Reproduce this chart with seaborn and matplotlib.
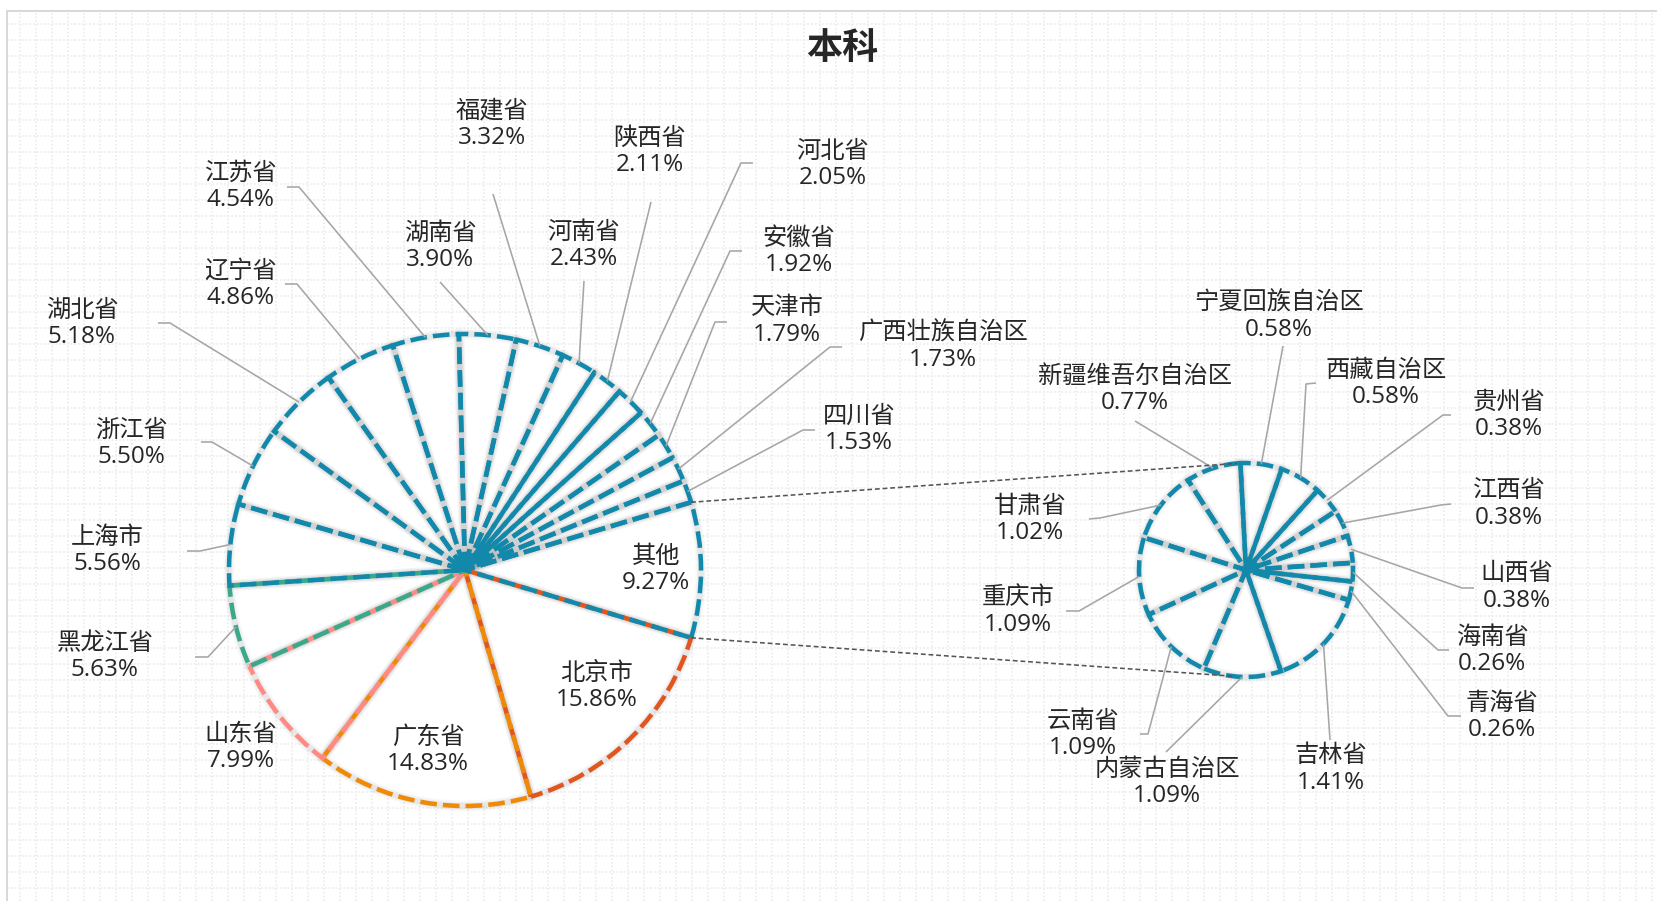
import numpy as np
import matplotlib
matplotlib.use("Agg")
import matplotlib.pyplot as plt
import seaborn as sns
from matplotlib.lines import Line2D

sns.set_theme(style="white")
plt.rcParams["font.family"] = ["Noto Sans CJK SC", "DejaVu Sans"]

W, H = 1658, 901
DPI = 100
PT = 72 / DPI  # points per pixel

# ---- data: main pie, clockwise from the split of "其他" ----
main_names = ["北京市", "广东省", "山东省", "黑龙江省", "上海市", "浙江省", "湖北省",
              "辽宁省", "江苏省", "湖南省", "福建省", "河南省", "陕西省", "河北省",
              "安徽省", "天津市", "广西壮族自治区", "四川省", "其他"]
main_values = [15.86, 14.83, 7.99, 5.63, 5.56, 5.50, 5.18, 4.86, 4.54, 3.90,
               3.32, 2.43, 2.11, 2.05, 1.92, 1.79, 1.73, 1.53, 9.27]

# ---- data: secondary pie (breakdown of "其他"), clockwise from the top ----
sub_names = ["宁夏回族自治区", "西藏自治区", "贵州省", "江西省", "山西省", "海南省",
             "青海省", "吉林省", "内蒙古自治区", "云南省", "重庆市", "甘肃省",
             "新疆维吾尔自治区"]
sub_values = [0.58, 0.58, 0.38, 0.38, 0.38, 0.26, 0.26, 1.41, 1.09, 1.09,
              1.09, 1.02, 0.77]

title_text = "本科"

# ---- styling ----
TEAL = "#1289AB"
main_edges = ["#E0561E", "#EF8A07", "#FF8A83", "#3AA889"] + [TEAL] * 15
sub_edges = [TEAL] * len(sub_values)
TEXT = "#262626"
LEADER = "#a6a6a6"
FS = 17.5
LW_PX = 4.5
DASH = (3.7, 1.35)  # in units of line width

# slices whose counter-clockwise-side edge shows as a continuous line
main_solid_edges = {"河北省", "陕西省", "河南省"}
sub_solid_edges = {"宁夏回族自治区", "西藏自治区", "海南省", "吉林省"}

# layout in pixel coordinates (origin top-left)
MAIN_C, MAIN_R = (465, 570), 236
SUB_C, SUB_R = (1246, 570), 107

main_label_pos = {
    "北京市": (597, 686), "广东省": (428, 750), "山东省": (241, 747),
    "黑龙江省": (105, 656), "上海市": (107, 550), "浙江省": (131, 443),
    "湖北省": (82, 323), "辽宁省": (241, 284), "江苏省": (241, 186),
    "湖南省": (440, 246), "福建省": (492, 124), "河南省": (584, 245),
    "陕西省": (650, 151), "河北省": (833, 164), "安徽省": (799, 251),
    "天津市": (787, 321), "广西壮族自治区": (943, 346), "四川省": (859, 429),
    "其他": (656, 569),
}
main_leaders = {
    "黑龙江省": [(195, 657), (208, 657)], "上海市": [(187, 551), (200, 551)],
    "浙江省": [(201, 442), (212, 442)], "湖北省": [(158, 323), (170, 323)],
    "辽宁省": [(285, 284), (297, 284)], "江苏省": [(287, 187), (299, 187)],
    "湖南省": [(440, 282)], "福建省": [(493, 194)], "河南省": [(584, 281)],
    "陕西省": [(651, 202)], "河北省": [(753, 163), (741, 163)],
    "安徽省": [(742, 251), (730, 251)], "天津市": [(727, 322), (715, 322)],
    "广西壮族自治区": [(842, 347), (830, 347)], "四川省": [(815, 430), (803, 430)],
}
sub_label_pos = {
    "宁夏回族自治区": (1279, 316), "西藏自治区": (1386, 383), "贵州省": (1509, 415),
    "江西省": (1509, 504), "山西省": (1517, 587), "海南省": (1492, 650),
    "青海省": (1502, 716), "吉林省": (1331, 769), "内蒙古自治区": (1167, 782),
    "云南省": (1083, 734), "重庆市": (1018, 611), "甘肃省": (1030, 519),
    "新疆维吾尔自治区": (1135, 389),
}
sub_leaders = {
    "宁夏回族自治区": [(1283, 346)], "西藏自治区": [(1316, 383), (1306, 384)],
    "贵州省": [(1451, 415), (1443, 415)], "江西省": [(1451, 504), (1441, 505)],
    "山西省": [(1474, 588), (1462, 588)], "海南省": [(1449, 650), (1438, 650)],
    "青海省": [(1461, 716), (1448, 716)], "吉林省": [(1330, 740)],
    "内蒙古自治区": [(1166, 752)], "云南省": [(1140, 734), (1148, 734)],
    "重庆市": [(1066, 611), (1079, 611)], "甘肃省": [(1089, 519), (1100, 518)],
    "新疆维吾尔自治区": [(1135, 421)],
}


def Y(y):
    return H - y


def P(pt):
    return (pt[0], Y(pt[1]))


fig = plt.figure(figsize=(W / DPI, H / DPI), dpi=DPI, facecolor="white")
ax = fig.add_axes([7 / W, 0, (W - 7) / W, (H - 11) / H])


def phase_dashes(wedges, names, edges, radius, solid_names):
    """Set a dash phase per wedge so that shared radial edges line up
    (dash over dash), or interleave where the edge should read solid or
    where two different colours meet."""
    a = DASH[0] * LW_PX
    p = (DASH[0] + DASH[1]) * LW_PX
    order = sorted(range(len(wedges)), key=lambda i: wedges[i].theta1)
    offs = {}
    prev = None
    for i in order:
        w = wedges[i]
        arc = radius * np.deg2rad(w.theta2 - w.theta1)
        if prev is None:
            offs[i] = 0.0
        else:
            j, arc_j = prev
            shift = 0.0
            if names[i] in solid_names or edges[i] != edges[j]:
                shift = p / 2
            offs[i] = (a - offs[j] - arc_j - arc - 2 * radius + shift) % p
        prev = (i, arc)
        w.set_linestyle((offs[i] / LW_PX, DASH))


def draw_pie(values, names, center, radius, edges, startangle, solid_names):
    c = P(center)
    n = len(values)
    # white faces
    ax.pie(values, startangle=startangle, counterclock=False, center=c,
           radius=radius, colors=["white"] * n,
           wedgeprops=dict(linewidth=0, edgecolor="none"))
    # soft grey halo under the edges
    for lw, a in [(11, 0.035), (8, 0.05), (5.5, 0.07)]:
        ax.pie(values, startangle=startangle, counterclock=False, center=c,
               radius=radius,
               wedgeprops=dict(facecolor="none", edgecolor=(0.4, 0.4, 0.4, a),
                               linewidth=lw * PT, joinstyle="round"))
    wedges, _ = ax.pie(values, startangle=startangle, counterclock=False,
                       center=c, radius=radius,
                       wedgeprops=dict(facecolor="none", linewidth=LW_PX * PT))
    for w, ec in zip(wedges, edges):
        w.set_edgecolor(ec)
    phase_dashes(wedges, names, edges, radius, solid_names)
    return wedges


main_start = -main_values[-1] * 3.6 / 2
mw = draw_pie(main_values, main_names, MAIN_C, MAIN_R, main_edges, main_start,
              main_solid_edges)
sw = draw_pie(sub_values, sub_names, SUB_C, SUB_R, sub_edges, 93, sub_solid_edges)


def put_labels(names, values, wedges, center, radius, pos, leaders):
    cx, cy = P(center)
    for name, v, w in zip(names, values, wedges):
        lx, ly = pos[name]
        ax.text(lx, Y(ly - 13.5), name, ha="center", va="center",
                fontsize=FS, color=TEXT, zorder=6)
        ax.text(lx, Y(ly + 14), f"{v:.2f}%", ha="center", va="center",
                fontsize=FS, color=TEXT, zorder=6,
                family=["Open Sans", "DejaVu Sans"])
        if name in leaders:
            mid = np.deg2rad((w.theta1 + w.theta2) / 2)
            pts = [P(q) for q in leaders[name]]
            pts.append((cx + radius * np.cos(mid), cy + radius * np.sin(mid)))
            xs, ys = zip(*pts)
            ax.plot(xs, ys, color=LEADER, lw=1.6 * PT, zorder=4,
                    solid_capstyle="butt")


put_labels(main_names, main_values, mw, MAIN_C, MAIN_R, main_label_pos, main_leaders)
put_labels(sub_names, sub_values, sw, SUB_C, SUB_R, sub_label_pos, sub_leaders)

# connector lines between the "其他" slice and the secondary pie
other = mw[-1]
mcx, mcy = P(MAIN_C)
scx, scy = P(SUB_C)
for ang_main, ang_sub in [(other.theta2, 95.0), (other.theta1, -97.0)]:
    a1, a2 = np.deg2rad(ang_main), np.deg2rad(ang_sub)
    ax.plot([mcx + MAIN_R * np.cos(a1), scx + SUB_R * np.cos(a2)],
            [mcy + MAIN_R * np.sin(a1), scy + SUB_R * np.sin(a2)],
            color="#555555", lw=1.6 * PT, linestyle=(0, (3, 1.8)), zorder=5)

ax.text(842, Y(48), title_text, ha="center", va="center", fontsize=26,
        fontweight="bold", color=TEXT, zorder=6)

# dotted background grid
ax.set_xlim(7, W)
ax.set_ylim(0, H - 11)
ax.set_aspect("equal")
ax.set_xticks(np.arange(20, W, 16))
ax.set_yticks([Y(y) for y in np.arange(24, H, 16)])
ax.grid(True, color="#ececec", linestyle=(0, (1, 1.2)), linewidth=1.7 * PT)
ax.set_axisbelow(True)
ax.tick_params(length=0, labelbottom=False, labelleft=False)
for s in ax.spines.values():
    s.set_visible(False)

# chart border (top and left)
fig.add_artist(Line2D([7 / W, 7 / W], [0, 1 - 11 / H], transform=fig.transFigure,
                      color="#d9d9d9", lw=2 * PT))
fig.add_artist(Line2D([7 / W, 1], [1 - 11 / H, 1 - 11 / H], transform=fig.transFigure,
                      color="#d9d9d9", lw=2 * PT))

fig.savefig("out.png", dpi=DPI, facecolor="white")
